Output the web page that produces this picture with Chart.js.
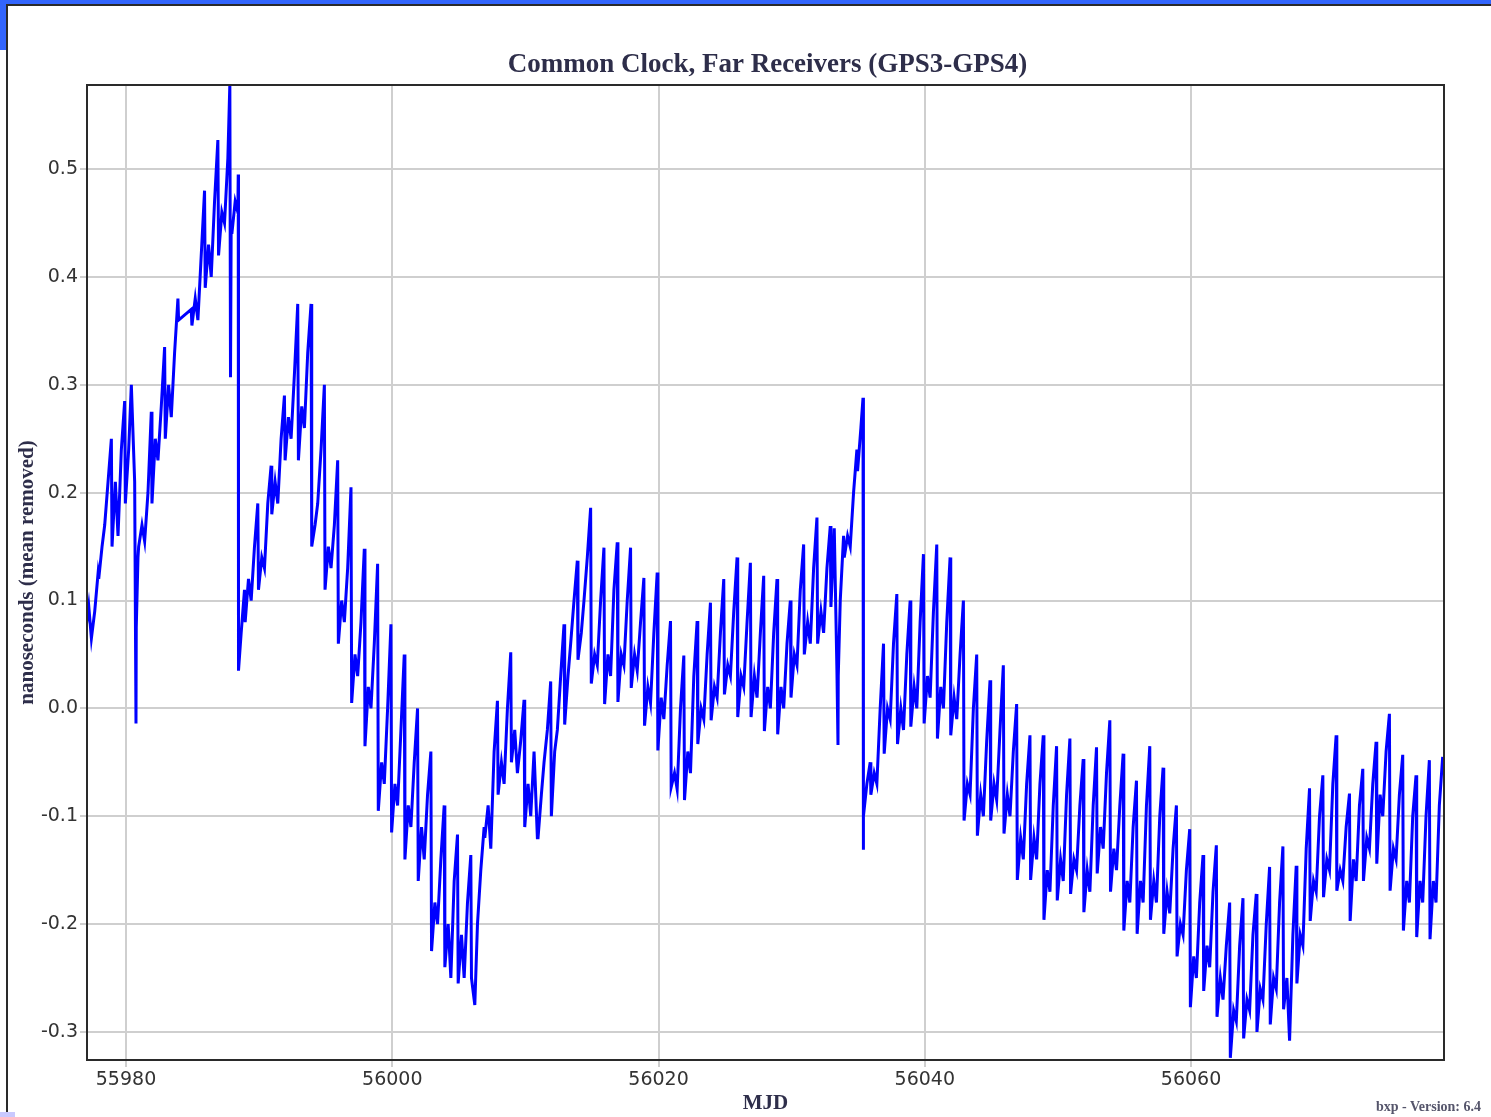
<!DOCTYPE html>
<html>
<head>
<meta charset="utf-8">
<title>Common Clock, Far Receivers (GPS3-GPS4)</title>
<script src="https://cdn.jsdelivr.net/npm/chart.js@4.4.0/dist/chart.umd.min.js"></script>
<style>
  html, body { margin: 0; padding: 0; background: #ffffff; }
  #wrap { position: relative; width: 1491px; height: 1117px; overflow: hidden; }
  #myChart { position: absolute; left: 0; top: 0; }
  .blue-top { position: absolute; left: 0; top: 0; width: 1491px; height: 4px; background: #3265fd; }
  .blue-left { position: absolute; left: 0; top: 0; width: 6px; height: 50px; background: #3265fd; }
  .edge-top { position: absolute; left: 6px; top: 4px; width: 1485px; height: 2px; background: #2a2a2a; }
  .edge-left { position: absolute; left: 6px; top: 4px; width: 2px; height: 1113px; background: #2a2a2a; }
  .corner { position: absolute; left: 0; top: 1112px; width: 15px; height: 5px; background: #c9c9ff; }
  .version { position: absolute; left: 1376px; top: 1099px; font: bold 14px "Liberation Serif", serif; color: #55556b; white-space: nowrap; }
</style>
</head>
<body>
<div id="wrap">
  <canvas id="myChart" width="1491" height="1117"></canvas>
  <div class="blue-top"></div>
  <div class="blue-left"></div>
  <div class="edge-top"></div>
  <div class="edge-left"></div>
  <div class="corner"></div>
  <div class="version">bxp - Version: 6.4</div>
</div>
<script>
const titleText = 'Common Clock, Far Receivers (GPS3-GPS4)';
const xLabel = 'MJD';
const yLabel = 'nanoseconds (mean removed)';

const xTicks = [55980, 56000, 56020, 56040, 56060];
const yTicks = [-0.3, -0.2, -0.1, 0.0, 0.1, 0.2, 0.3, 0.4, 0.5];

// one row per day, starting at firstDay; values sampled at these day fractions
const firstDay = 55977;
const sampleFrac = [-0.05, 0.2, 0.4, 0.65, 0.9];
const nsDaily = [
  [0.07, 0.095, 0.065, 0.09, 0.125],    // 55977
  [0.12, 0.15, 0.17, 0.21, 0.25],
  [0.15, 0.21, 0.16, 0.24, 0.285],
  [0.19, 0.24, 0.30, 0.21, 0.14],       // 55980
  [0.15, 0.17, 0.155, 0.20, 0.275],
  [0.19, 0.25, 0.23, 0.28, 0.335],
  [0.25, 0.30, 0.27, 0.33, 0.38],
  [0.36, null, null, null, 0.37],       // data gap
  [0.355, 0.38, 0.36, 0.42, 0.48],      // 55985
  [0.39, 0.43, 0.40, 0.47, 0.527],
  [0.42, 0.46, 0.45, 0.51, 0.45],
  [0.44, 0.47, 0.46, 0.07, 0.11],
  [0.08, 0.12, 0.10, 0.15, 0.19],
  [0.11, 0.14, 0.13, 0.19, 0.225],      // 55990
  [0.18, 0.21, 0.19, 0.25, 0.29],
  [0.23, 0.27, 0.25, 0.31, 0.375],
  [0.23, 0.28, 0.26, 0.33, 0.375],
  [0.15, 0.17, 0.19, 0.24, 0.30],
  [0.11, 0.15, 0.13, 0.17, 0.23],       // 55995
  [0.06, 0.10, 0.08, 0.13, 0.205],
  [0.005, 0.05, 0.03, 0.08, 0.148],
  [-0.035, 0.02, 0.0, 0.06, 0.134],
  [-0.095, -0.05, -0.07, 0.0, 0.078],
  [-0.115, -0.07, -0.09, -0.02, 0.05],  // 56000
  [-0.14, -0.09, -0.11, -0.05, 0.0],
  [-0.16, -0.11, -0.14, -0.08, -0.04],
  [-0.225, -0.18, -0.20, -0.14, -0.09],
  [-0.24, -0.20, -0.25, -0.16, -0.117],
  [-0.255, -0.21, -0.25, -0.18, -0.136], // 56005
  [-0.25, -0.275, -0.20, -0.15, -0.11],
  [-0.12, -0.09, -0.13, -0.04, 0.007],
  [-0.08, -0.05, -0.07, 0.0, 0.052],
  [-0.05, -0.02, -0.06, -0.03, 0.008],
  [-0.11, -0.07, -0.10, -0.04, -0.12],  // 56010
  [-0.12, -0.08, -0.05, -0.02, 0.025],
  [-0.10, -0.04, -0.02, 0.03, 0.078],
  [-0.015, 0.03, 0.06, 0.10, 0.137],
  [0.045, 0.07, 0.10, 0.14, 0.186],
  [0.023, 0.05, 0.04, 0.10, 0.149],     // 56015
  [0.004, 0.05, 0.03, 0.11, 0.154],
  [0.006, 0.05, 0.04, 0.10, 0.149],
  [0.019, 0.05, 0.035, 0.08, 0.121],
  [-0.016, 0.02, 0.005, 0.07, 0.126],
  [-0.039, 0.01, -0.01, 0.04, 0.081],   // 56020
  [-0.073, -0.06, -0.075, 0.0, 0.049],
  [-0.085, -0.04, -0.06, 0.03, 0.081],
  [-0.033, 0.0, -0.01, 0.05, 0.098],
  [-0.011, 0.02, 0.01, 0.07, 0.12],
  [0.013, 0.04, 0.03, 0.09, 0.14],      // 56025
  [-0.008, 0.03, 0.02, 0.08, 0.135],
  [-0.008, 0.03, 0.01, 0.07, 0.123],
  [-0.021, 0.02, 0.0, 0.07, 0.12],
  [-0.024, 0.02, 0.0, 0.06, 0.10],
  [0.01, 0.05, 0.04, 0.11, 0.152],      // 56030
  [0.05, 0.08, 0.06, 0.13, 0.177],
  [0.06, 0.09, 0.07, 0.13, 0.169],
  [0.094, 0.167, 0.035, 0.10, 0.16],
  [0.14, 0.16, 0.15, 0.20, 0.24],
  [0.22, 0.26, -0.10, -0.07, -0.05],    // 56035
  [-0.08, -0.06, -0.07, 0.0, 0.06],
  [-0.042, 0.0, -0.01, 0.06, 0.106],
  [-0.033, 0.0, -0.02, 0.05, 0.10],
  [-0.017, 0.02, 0.0, 0.08, 0.143],
  [-0.014, 0.03, 0.01, 0.09, 0.152],    // 56040
  [-0.028, 0.02, 0.0, 0.08, 0.14],
  [-0.025, 0.01, -0.01, 0.05, 0.10],
  [-0.104, -0.07, -0.08, 0.0, 0.05],
  [-0.118, -0.08, -0.10, -0.03, 0.026],
  [-0.104, -0.07, -0.085, -0.02, 0.04], // 56045
  [-0.116, -0.08, -0.10, -0.04, 0.004],
  [-0.159, -0.12, -0.14, -0.07, -0.025],
  [-0.159, -0.12, -0.14, -0.07, -0.025],
  [-0.196, -0.15, -0.17, -0.09, -0.035],
  [-0.178, -0.14, -0.16, -0.08, -0.028], // 56050
  [-0.172, -0.14, -0.15, -0.09, -0.047],
  [-0.189, -0.15, -0.17, -0.09, -0.036],
  [-0.153, -0.11, -0.13, -0.06, -0.011],
  [-0.17, -0.13, -0.15, -0.09, -0.042],
  [-0.206, -0.16, -0.18, -0.11, -0.067], // 56055
  [-0.209, -0.16, -0.18, -0.09, -0.035],
  [-0.196, -0.16, -0.18, -0.10, -0.055],
  [-0.209, -0.17, -0.19, -0.13, -0.09],
  [-0.23, -0.20, -0.21, -0.15, -0.112],
  [-0.277, -0.23, -0.25, -0.18, -0.136], // 56060
  [-0.262, -0.22, -0.24, -0.17, -0.127],
  [-0.286, -0.25, -0.27, -0.22, -0.18],
  [-0.324, -0.28, -0.29, -0.22, -0.176],
  [-0.306, -0.27, -0.28, -0.21, -0.172],
  [-0.30, -0.26, -0.27, -0.20, -0.147],  // 56065
  [-0.293, -0.25, -0.26, -0.18, -0.128],
  [-0.279, -0.25, -0.308, -0.21, -0.146],
  [-0.255, -0.21, -0.22, -0.13, -0.074],
  [-0.197, -0.16, -0.17, -0.10, -0.062],
  [-0.175, -0.14, -0.15, -0.07, -0.025], // 56070
  [-0.169, -0.15, -0.16, -0.11, -0.079],
  [-0.197, -0.14, -0.16, -0.09, -0.056],
  [-0.16, -0.12, -0.13, -0.07, -0.031],
  [-0.144, -0.08, -0.10, -0.04, -0.005],
  [-0.169, -0.13, -0.14, -0.08, -0.043], // 56075
  [-0.206, -0.16, -0.18, -0.10, -0.062],
  [-0.212, -0.16, -0.18, -0.10, -0.048],
  [-0.214, -0.16, -0.18, -0.09, -0.045]  // 56078
];

// single-sample spikes and jumps
const spikes = [
  [55980.75, -0.014], [55980.77, 0.075],
  [55987.80, 0.579], [55987.85, 0.307],
  [55988.43, 0.495], [55988.45, 0.035],
  [56033.48, -0.034], [56033.50, 0.03],
  [56035.36, 0.288], [56035.38, -0.131]
];

var points = [];
nsDaily.forEach(function(row, i) {
  row.forEach(function(v, k) {
    if (v !== null) points.push({x: firstDay + i + sampleFrac[k], y: v});
  });
});
spikes.forEach(function(p) { points.push({x: p[0], y: p[1]}); });
points.sort(function(a, b) { return a.x - b.x; });

const inkColor = '#2e2e4a';
const gridColor = '#cfcfcf';

const plotTitle = {
  id: 'plotTitle',
  afterDraw(chart) {
    const ctx = chart.ctx, a = chart.chartArea;
    ctx.save();
    ctx.font = 'bold 27px "Liberation Serif"';
    ctx.fillStyle = inkColor;
    ctx.textAlign = 'center';
    ctx.textBaseline = 'alphabetic';
    ctx.fillText(titleText, (a.left + a.right) / 2 + 2, 72);
    ctx.restore();
  }
};

const plotFrame = {
  id: 'plotFrame',
  afterDatasetsDraw(chart) {
    const ctx = chart.ctx, a = chart.chartArea;
    ctx.save();
    ctx.strokeStyle = '#2a2a2a';
    ctx.lineWidth = 2;
    ctx.strokeRect(a.left, a.top, a.right - a.left, a.bottom - a.top);
    ctx.restore();
  }
};

var ctx = document.getElementById('myChart').getContext('2d');
var myChart = new Chart(ctx, {
  type: 'line',
  data: {
    datasets: [{
      data: points,
      borderColor: '#0000ff',
      borderWidth: 3,
      pointRadius: 0,
      fill: false,
      tension: 0
    }]
  },
  options: {
    responsive: false,
    animation: false,
    layout: {padding: {left: 0, top: 85, right: 47, bottom: 0}},
    plugins: {
      legend: {display: false},
      tooltip: {enabled: false},
      title: {display: false}
    },
    scales: {
      x: {
        type: 'linear',
        min: 55977.07,
        max: 56079.0,
        afterBuildTicks: function(s) { s.ticks = xTicks.map(function(v) { return {value: v}; }); },
        afterFit: function(s) { s.height = 57; },
        border: {display: false},
        grid: {color: gridColor, lineWidth: 2, tickLength: 7, tickColor: gridColor},
        ticks: {
          autoSkip: false, maxRotation: 0, padding: 2, color: '#333',
          font: {family: 'DejaVu Sans', size: 19},
          callback: function(v) { return String(v); }
        },
        title: {
          display: true, text: xLabel, color: inkColor,
          font: {family: 'Liberation Serif', size: 21, weight: 'bold'},
          padding: {top: 0, bottom: 1}
        }
      },
      y: {
        min: -0.326,
        max: 0.578,
        afterBuildTicks: function(s) { s.ticks = yTicks.map(function(v) { return {value: v}; }); },
        afterFit: function(s) { s.width = 87; },
        border: {display: false},
        grid: {color: gridColor, lineWidth: 2, tickLength: 7, tickColor: gridColor},
        ticks: {
          autoSkip: false, padding: 2, color: '#333',
          font: {family: 'DejaVu Sans', size: 19},
          callback: function(v) { return v.toFixed(1); }
        },
        title: {
          display: true, text: yLabel, color: inkColor,
          font: {family: 'Liberation Serif', size: 21, weight: 'bold'},
          padding: {top: 15, bottom: 0}
        }
      }
    }
  },
  plugins: [plotTitle, plotFrame]
});
</script>
</body>
</html>
